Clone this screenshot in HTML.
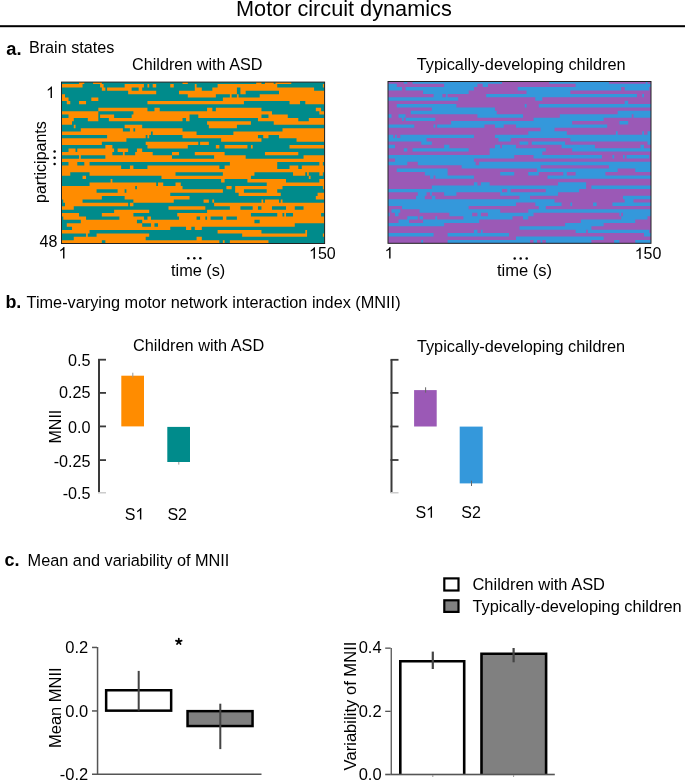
<!DOCTYPE html>
<html><head><meta charset="utf-8"><style>
html,body{margin:0;padding:0;background:#fff;}
svg{display:block;will-change:transform;}
text{font-family:"Liberation Sans",sans-serif;fill:#000;}
.b{font-weight:bold;}
</style></head><body>
<svg width="685" height="781" viewBox="0 0 685 781">
<rect x="0" y="0" width="685" height="781" fill="#fff"/>
<!-- title -->
<text x="236" y="16" font-size="21.7">Motor circuit dynamics</text>
<rect x="0" y="25.2" width="685" height="2" fill="#000"/>

<!-- a. -->
<text x="6.3" y="55" font-size="18.3" class="b">a.</text>
<text x="28.9" y="53.3" font-size="16.2">Brain states</text>
<text x="132" y="69.9" font-size="16.2">Children with ASD</text>
<text x="416.7" y="70.1" font-size="16.35">Typically-developing children</text>

<rect x="61.5" y="82.1" width="263.10" height="161.40" fill="#008B8B"/>
<path fill="#FF8C00" d="M79.04 82.10H84.30V84.00H79.04zM93.07 82.10H101.84V84.00H93.07zM182.53 82.10H187.79V84.00H182.53zM256.19 82.10H261.46V84.00H256.19zM264.96 82.10H273.73V84.00H264.96zM275.49 82.10H291.27V84.00H275.49zM61.50 84.00H82.55V87.39H61.50zM100.09 84.00H103.60V87.39H100.09zM124.64 84.00H143.94V87.39H124.64zM147.45 84.00H149.20V87.39H147.45zM152.71 84.00H156.22V87.39H152.71zM170.25 84.00H173.76V87.39H170.25zM194.80 84.00H196.56V87.39H194.80zM217.61 84.00H277.24V87.39H217.61zM322.85 84.00H324.60V87.39H322.85zM101.84 87.39H105.35V90.79H101.84zM107.10 87.39H131.66V90.79H107.10zM138.68 87.39H142.18V90.79H138.68zM194.80 87.39H201.82V90.79H194.80zM212.34 87.39H236.90V90.79H212.34zM240.41 87.39H314.08V90.79H240.41zM128.15 90.79H156.22V94.18H128.15zM179.02 90.79H236.90V94.18H179.02zM240.41 90.79H245.67V94.18H240.41zM279.00 90.79H324.60V94.18H279.00zM61.50 94.18H65.01V97.58H61.50zM187.79 94.18H215.85V97.58H187.79zM229.88 94.18H231.64V97.58H229.88zM236.90 94.18H238.65V97.58H236.90zM259.70 94.18H324.60V97.58H259.70zM61.50 97.58H68.52V100.98H61.50zM91.32 97.58H98.33V100.98H91.32zM222.87 97.58H324.60V100.98H222.87zM66.76 100.98H70.27V104.37H66.76zM79.04 100.98H86.06V104.37H79.04zM147.45 100.98H243.92V104.37H147.45zM289.52 100.98H300.04V104.37H289.52zM305.31 100.98H324.60V104.37H305.31zM98.33 107.77H147.45V111.16H98.33zM154.46 107.77H159.72V111.16H154.46zM207.08 107.77H212.34V111.16H207.08zM215.85 107.77H261.46V111.16H215.85zM315.83 107.77H321.09V111.16H315.83zM61.50 111.16H98.33V114.56H61.50zM133.41 111.16H271.98V114.56H133.41zM319.34 111.16H324.60V114.56H319.34zM68.52 114.56H98.33V117.96H68.52zM100.09 114.56H114.12V117.96H100.09zM131.66 114.56H189.54V117.96H131.66zM198.31 114.56H261.46V117.96H198.31zM268.47 114.56H287.77V117.96H268.47zM61.50 117.96H73.78V121.35H61.50zM87.81 117.96H98.33V121.35H87.81zM108.86 117.96H182.53V121.35H108.86zM186.03 117.96H189.54V121.35H186.03zM257.95 117.96H298.29V121.35H257.95zM308.81 117.96H324.60V121.35H308.81zM61.50 121.35H72.02V124.75H61.50zM207.08 121.35H250.93V124.75H207.08zM273.73 121.35H324.60V124.75H273.73zM73.78 124.75H75.53V128.14H73.78zM124.64 124.75H142.18V128.14H124.64zM208.84 124.75H236.90V128.14H208.84zM80.79 128.14H122.89V131.54H80.79zM129.91 128.14H133.41V131.54H129.91zM135.17 128.14H182.53V131.54H135.17zM282.50 128.14H324.60V131.54H282.50zM61.50 131.54H150.95V134.94H61.50zM152.71 131.54H196.56V134.94H152.71zM233.39 131.54H324.60V134.94H233.39zM107.10 134.94H145.69V138.33H107.10zM147.45 134.94H149.20V138.33H147.45zM182.53 134.94H257.95V138.33H182.53zM263.21 134.94H268.47V138.33H263.21zM279.00 134.94H324.60V138.33H279.00zM61.50 138.33H126.40V141.73H61.50zM221.11 138.33H261.46V141.73H221.11zM296.54 138.33H324.60V141.73H296.54zM61.50 141.73H101.84V145.12H61.50zM145.69 141.73H198.31V145.12H145.69zM200.07 141.73H208.84V145.12H200.07zM105.35 145.12H112.37V148.52H105.35zM147.45 145.12H187.79V148.52H147.45zM215.85 145.12H219.36V148.52H215.85zM224.62 145.12H247.42V148.52H224.62zM250.93 145.12H252.69V148.52H250.93zM289.52 145.12H324.60V148.52H289.52zM68.52 148.52H75.53V151.92H68.52zM77.29 148.52H114.12V151.92H77.29zM117.63 148.52H128.15V151.92H117.63zM136.92 148.52H142.18V151.92H136.92zM61.50 151.92H112.37V155.31H61.50zM122.89 151.92H124.64V155.31H122.89zM135.17 151.92H152.71V155.31H135.17zM172.00 151.92H179.02V155.31H172.00zM194.80 151.92H224.62V155.31H194.80zM264.96 151.92H298.29V155.31H264.96zM79.04 155.31H80.79V158.71H79.04zM105.35 155.31H172.00V158.71H105.35zM214.10 155.31H245.67V158.71H214.10zM303.55 155.31H324.60V158.71H303.55zM61.50 158.71H324.60V162.10H61.50zM68.52 162.10H77.29V165.50H68.52zM84.30 162.10H89.56V165.50H84.30zM229.88 162.10H277.24V165.50H229.88zM319.34 162.10H322.85V165.50H319.34zM61.50 165.50H121.14V168.90H61.50zM129.91 165.50H133.41V168.90H129.91zM147.45 165.50H219.36V168.90H147.45zM224.62 165.50H277.24V168.90H224.62zM289.52 165.50H298.29V168.90H289.52zM301.80 165.50H324.60V168.90H301.80zM61.50 168.90H324.60V172.29H61.50zM61.50 172.29H70.27V175.69H61.50zM89.56 172.29H175.51V175.69H89.56zM222.87 172.29H254.44V175.69H222.87zM293.03 172.29H305.31V175.69H293.03zM307.06 172.29H308.81V175.69H307.06zM319.34 172.29H322.85V175.69H319.34zM82.55 175.69H86.06V179.08H82.55zM161.48 175.69H250.93V179.08H161.48zM308.81 175.69H310.57V179.08H308.81zM110.61 179.08H112.37V182.48H110.61zM221.11 179.08H224.62V182.48H221.11zM247.42 179.08H286.01V182.48H247.42zM319.34 179.08H324.60V182.48H319.34zM89.56 182.48H156.22V185.88H89.56zM157.97 182.48H163.23V185.88H157.97zM175.51 182.48H180.77V185.88H175.51zM266.72 182.48H324.60V185.88H266.72zM61.50 185.88H135.17V189.27H61.50zM136.92 185.88H182.53V189.27H136.92zM226.38 185.88H231.64V189.27H226.38zM235.15 185.88H282.50V189.27H235.15zM322.85 185.88H324.60V189.27H322.85zM61.50 189.27H96.58V192.67H61.50zM117.63 189.27H124.64V192.67H117.63zM126.40 189.27H222.87V192.67H126.40zM235.15 189.27H243.92V192.67H235.15zM266.72 189.27H277.24V192.67H266.72zM61.50 192.67H170.25V196.06H61.50zM238.65 192.67H280.75V196.06H238.65zM317.58 192.67H324.60V196.06H317.58zM61.50 196.06H101.84V199.46H61.50zM124.64 196.06H189.54V199.46H124.64zM315.83 196.06H324.60V199.46H315.83zM63.25 199.46H82.55V202.86H63.25zM133.41 199.46H173.76V202.86H133.41zM203.57 199.46H208.84V202.86H203.57zM212.34 199.46H214.10V202.86H212.34zM261.46 199.46H263.21V202.86H261.46zM264.96 199.46H279.00V202.86H264.96zM280.75 199.46H282.50V202.86H280.75zM65.01 202.86H128.15V206.25H65.01zM129.91 202.86H133.41V206.25H129.91zM214.10 202.86H324.60V206.25H214.10zM61.50 206.25H73.78V209.65H61.50zM168.49 206.25H205.33V209.65H168.49zM229.88 206.25H240.41V209.65H229.88zM252.69 206.25H257.95V209.65H252.69zM261.46 206.25H271.98V209.65H261.46zM286.01 206.25H294.78V209.65H286.01zM303.55 206.25H324.60V209.65H303.55zM114.12 209.65H149.20V213.04H114.12zM207.08 209.65H324.60V213.04H207.08zM61.50 213.04H79.04V216.44H61.50zM101.84 213.04H133.41V216.44H101.84zM177.26 213.04H250.93V216.44H177.26zM277.24 213.04H282.50V216.44H277.24zM284.26 213.04H286.01V216.44H284.26zM293.03 213.04H321.09V216.44H293.03zM63.25 216.44H86.06V219.84H63.25zM119.38 216.44H143.94V219.84H119.38zM147.45 216.44H150.95V219.84H147.45zM179.02 216.44H196.56V219.84H179.02zM200.07 216.44H205.33V219.84H200.07zM207.08 216.44H210.59V219.84H207.08zM222.87 216.44H226.38V219.84H222.87zM236.90 216.44H324.60V219.84H236.90zM80.79 219.84H136.92V223.23H80.79zM142.18 219.84H254.44V223.23H142.18zM259.70 219.84H324.60V223.23H259.70zM66.76 223.23H142.18V226.63H66.76zM150.95 223.23H154.46V226.63H150.95zM157.97 223.23H294.78V226.63H157.97zM72.02 226.63H170.25V230.02H72.02zM186.03 226.63H191.30V230.02H186.03zM194.80 226.63H201.82V230.02H194.80zM61.50 230.02H89.56V233.42H61.50zM217.61 230.02H261.46V233.42H217.61zM305.31 230.02H307.06V233.42H305.31zM86.06 233.42H87.81V236.82H86.06zM96.58 233.42H149.20V236.82H96.58zM242.16 233.42H307.06V236.82H242.16zM322.85 233.42H324.60V236.82H322.85zM73.78 236.82H145.69V240.21H73.78zM196.56 236.82H201.82V240.21H196.56zM61.50 240.21H101.84V243.50H61.50zM105.35 240.21H219.36V243.50H105.35zM222.87 240.21H224.62V243.50H222.87zM229.88 240.21H268.47V243.50H229.88z"/>
<rect x="61.5" y="82.1" width="263.10" height="161.40" fill="none" stroke="#222" stroke-width="1"/>
<rect x="388.0" y="81.5" width="263.00" height="161.80" fill="#9B59B6"/>
<path fill="#3498DB" d="M403.78 81.50H407.29V83.70H403.78zM412.55 81.50H501.97V83.70H412.55zM549.31 81.50H608.92V83.70H549.31zM645.74 81.50H647.49V83.70H645.74zM388.00 83.70H396.77V87.09H388.00zM444.11 83.70H477.42V87.09H444.11zM482.68 83.70H487.94V87.09H482.68zM575.61 83.70H651.00V87.09H575.61zM388.00 87.09H402.03V90.49H388.00zM405.53 87.09H473.91V90.49H405.53zM517.75 87.09H621.19V90.49H517.75zM624.70 87.09H649.25V90.49H624.70zM423.07 90.49H468.65V93.88H423.07zM526.51 90.49H570.35V93.88H526.51zM433.59 93.88H442.35V97.28H433.59zM445.86 93.88H447.61V97.28H445.86zM486.19 93.88H636.97V97.28H486.19zM642.23 93.88H643.99V97.28H642.23zM388.00 97.28H458.13V100.68H388.00zM535.28 97.28H542.29V100.68H535.28zM624.70 100.68H628.21V104.07H624.70zM396.77 104.07H456.38V107.47H396.77zM524.76 104.07H526.51V107.47H524.76zM538.79 104.07H651.00V107.47H538.79zM431.83 107.47H494.95V110.86H431.83zM410.79 110.86H496.71V114.26H410.79zM617.69 110.86H651.00V114.26H617.69zM388.00 114.26H391.51V117.66H388.00zM398.52 114.26H405.53V117.66H398.52zM477.42 114.26H523.01V117.66H477.42zM559.83 114.26H631.71V117.66H559.83zM633.47 114.26H651.00V117.66H633.47zM402.03 117.66H403.78V121.05H402.03zM405.53 117.66H435.34V121.05H405.53zM533.53 117.66H603.66V121.05H533.53zM451.12 121.05H572.10V124.45H451.12zM619.44 121.05H628.21V124.45H619.44zM388.00 124.45H414.30V127.84H388.00zM433.59 124.45H435.34V127.84H433.59zM437.09 124.45H484.43V127.84H437.09zM494.95 124.45H503.72V127.84H494.95zM515.99 124.45H607.17V127.84H515.99zM540.54 127.84H554.57V131.24H540.54zM528.27 131.24H566.84V134.64H528.27zM615.93 131.24H617.69V134.64H615.93zM642.23 131.24H643.99V134.64H642.23zM647.49 131.24H651.00V134.64H647.49zM388.00 134.64H393.26V138.03H388.00zM395.01 134.64H396.77V138.03H395.01zM400.27 134.64H473.91V138.03H400.27zM494.95 134.64H651.00V138.03H494.95zM388.00 138.03H426.57V141.43H388.00zM498.46 138.03H510.73V141.43H498.46zM570.35 138.03H651.00V141.43H570.35zM421.31 141.43H431.83V144.82H421.31zM519.50 141.43H528.27V144.82H519.50zM531.77 141.43H565.09V144.82H531.77zM647.49 141.43H651.00V144.82H647.49zM388.00 144.82H395.01V148.22H388.00zM444.11 144.82H449.37V148.22H444.11zM494.95 144.82H500.21V148.22H494.95zM501.97 144.82H515.99V148.22H501.97zM561.58 144.82H594.89V148.22H561.58zM640.48 144.82H643.99V148.22H640.48zM403.78 148.22H407.29V151.62H403.78zM412.55 148.22H468.65V151.62H412.55zM489.69 148.22H545.80V151.62H489.69zM572.10 148.22H651.00V151.62H572.10zM489.69 151.62H542.29V155.01H489.69zM388.00 155.01H514.24V158.41H388.00zM533.53 155.01H601.91V158.41H533.53zM612.43 155.01H614.18V158.41H612.43zM622.95 155.01H624.70V158.41H622.95zM626.45 155.01H649.25V158.41H626.45zM395.01 158.41H473.91V161.80H395.01zM388.00 161.80H407.29V165.20H388.00zM417.81 161.80H475.67V165.20H417.81zM479.17 161.80H651.00V165.20H479.17zM461.64 165.20H540.54V168.60H461.64zM608.92 165.20H651.00V168.60H608.92zM396.77 168.60H447.61V171.99H396.77zM537.03 168.60H617.69V171.99H537.03zM635.22 168.60H651.00V171.99H635.22zM424.82 171.99H447.61V175.39H424.82zM500.21 171.99H514.24V175.39H500.21zM528.27 171.99H538.79V175.39H528.27zM563.33 171.99H566.84V175.39H563.33zM575.61 171.99H605.41V175.39H575.61zM430.08 175.39H433.59V178.78H430.08zM435.34 175.39H473.91V178.78H435.34zM547.55 175.39H651.00V178.78H547.55zM473.91 182.18H477.42V185.58H473.91zM480.93 182.18H489.69V185.58H480.93zM558.07 182.18H586.13V185.58H558.07zM431.83 185.58H586.13V188.97H431.83zM591.39 185.58H651.00V188.97H591.39zM388.00 188.97H501.97V192.37H388.00zM507.23 188.97H510.73V192.37H507.23zM545.80 188.97H579.11V192.37H545.80zM417.81 192.37H426.57V195.76H417.81zM430.08 192.37H431.83V195.76H430.08zM444.11 192.37H456.38V195.76H444.11zM500.21 192.37H558.07V195.76H500.21zM416.05 195.76H424.82V199.16H416.05zM431.83 195.76H435.34V199.16H431.83zM519.50 195.76H530.02V199.16H519.50zM622.95 195.76H651.00V199.16H622.95zM388.00 199.16H554.57V202.56H388.00zM624.70 199.16H633.47V202.56H624.70zM388.00 202.56H515.99V205.95H388.00zM535.28 202.56H561.58V205.95H535.28zM570.35 202.56H572.10V205.95H570.35zM593.14 202.56H596.65V205.95H593.14zM612.43 202.56H651.00V205.95H612.43zM402.03 205.95H468.65V209.35H402.03zM538.79 205.95H545.80V209.35H538.79zM391.51 209.35H400.27V212.74H391.51zM419.56 209.35H500.21V212.74H419.56zM528.27 209.35H651.00V212.74H528.27zM388.00 212.74H389.75V216.14H388.00zM395.01 212.74H398.52V216.14H395.01zM449.37 212.74H472.16V216.14H449.37zM477.42 212.74H480.93V216.14H477.42zM487.94 212.74H533.53V216.14H487.94zM619.44 212.74H621.19V216.14H619.44zM622.95 212.74H651.00V216.14H622.95zM407.29 216.14H417.81V219.54H407.29zM419.56 216.14H423.07V219.54H419.56zM435.34 216.14H437.09V219.54H435.34zM463.39 216.14H512.49V219.54H463.39zM523.01 216.14H528.27V219.54H523.01zM621.19 216.14H647.49V219.54H621.19zM398.52 219.54H409.04V222.93H398.52zM423.07 219.54H479.17V222.93H423.07zM580.87 219.54H635.22V222.93H580.87zM388.00 222.93H444.11V226.33H388.00zM565.09 222.93H603.66V226.33H565.09zM519.50 226.33H591.39V229.72H519.50zM473.91 229.72H477.42V233.12H473.91zM480.93 229.72H482.68V233.12H480.93zM575.61 229.72H586.13V233.12H575.61zM587.88 229.72H649.25V233.12H587.88zM388.00 233.12H433.59V236.52H388.00zM447.61 233.12H508.98V236.52H447.61zM643.99 233.12H651.00V236.52H643.99zM515.99 236.52H603.66V239.91H515.99zM421.31 239.91H423.07V243.30H421.31zM447.61 239.91H530.02V243.30H447.61zM533.53 239.91H537.03V243.30H533.53zM540.54 239.91H542.29V243.30H540.54zM545.80 239.91H591.39V243.30H545.80zM614.18 239.91H619.44V243.30H614.18zM635.22 239.91H651.00V243.30H635.22z"/>
<rect x="388.0" y="81.5" width="263.00" height="161.80" fill="none" stroke="#222" stroke-width="1"/>

<!-- left heatmap axes labels -->
<path transform="translate(46.00,98) scale(0.007812,-0.007812)" d="M763 0L583 0L583 1147Q518 1085 412.5 1023Q307 961 223 930L223 1104Q374 1175 487 1276Q600 1377 647 1472L763 1472Z"/>
<text x="39.6" y="247.1" font-size="16">48</text>
<path transform="translate(58.50,258.5) scale(0.007812,-0.007812)" d="M763 0L583 0L583 1147Q518 1085 412.5 1023Q307 961 223 930L223 1104Q374 1175 487 1276Q600 1377 647 1472L763 1472Z"/>
<path transform="translate(309.00,258.8) scale(0.007812,-0.007812)" d="M763 0L583 0L583 1147Q518 1085 412.5 1023Q307 961 223 930L223 1104Q374 1175 487 1276Q600 1377 647 1472L763 1472Z"/><text x="317.9" y="258.8" font-size="16">50</text>
<text transform="translate(45.6,203) rotate(-90)" font-size="16">participants</text>
<g fill="#000"><circle cx="54.6" cy="151.5" r="1.25"/><circle cx="54.6" cy="157.7" r="1.25"/><circle cx="54.6" cy="163.9" r="1.25"/></g>
<g fill="#000"><circle cx="188.3" cy="258.2" r="1.25"/><circle cx="194.3" cy="258.2" r="1.25"/><circle cx="200.3" cy="258.2" r="1.25"/></g>
<text x="171" y="275.5" font-size="16.3">time (s)</text>

<!-- right heatmap axes labels -->
<path transform="translate(384.60,258.6) scale(0.007812,-0.007812)" d="M763 0L583 0L583 1147Q518 1085 412.5 1023Q307 961 223 930L223 1104Q374 1175 487 1276Q600 1377 647 1472L763 1472Z"/>
<path transform="translate(634.70,259.1) scale(0.007812,-0.007812)" d="M763 0L583 0L583 1147Q518 1085 412.5 1023Q307 961 223 930L223 1104Q374 1175 487 1276Q600 1377 647 1472L763 1472Z"/><text x="643.6" y="259.1" font-size="16">50</text>
<g fill="#000"><circle cx="514.7" cy="258.4" r="1.25"/><circle cx="520.7" cy="258.4" r="1.25"/><circle cx="526.7" cy="258.4" r="1.25"/></g>
<text x="497" y="275.5" font-size="16.55">time (s)</text>

<!-- b. -->
<text x="5.4" y="307.9" font-size="17.9" class="b">b.</text>
<text x="26.6" y="307.6" font-size="16.3">Time-varying motor network interaction index (MNII)</text>
<text x="133" y="351" font-size="16.3">Children with ASD</text>
<text x="416.9" y="351.5" font-size="16.3">Typically-developing children</text>

<!-- b left chart -->
<g>
<rect x="98" y="359.6" width="2" height="133.4" fill="#3a3a3a"/>
<g fill="#3a3a3a">
<rect x="98" y="358.8" width="8" height="1.8"/>
<rect x="98" y="392" width="8" height="1.8"/>
<rect x="98" y="425.5" width="8" height="1.8"/>
<rect x="98" y="459.2" width="8" height="1.8"/>
</g>
<rect x="98" y="492" width="8" height="1.5" fill="#ccc"/>
<g font-size="16.2" text-anchor="end">
<text x="90.6" y="365.5">0.5</text>
<text x="90.6" y="398">0.25</text>
<text x="90.6" y="433.4">0.0</text>
<text x="90.6" y="466.6">-0.25</text>
<text x="90.6" y="498.8">-0.5</text>
</g>
<text transform="translate(61.2,443.5) rotate(-90)" font-size="16">MNII</text>
<rect x="121.3" y="375.7" width="22.7" height="50.7" fill="#FF8C00"/>
<rect x="132.3" y="372.7" width="1" height="4.7" fill="#999"/>
<rect x="167.3" y="426.9" width="22.7" height="35.1" fill="#008B8B"/>
<rect x="178.3" y="462" width="1" height="2.6" fill="#999"/>
<text x="124.7" y="519.5" font-size="16">S</text><path transform="translate(135.37,519.5) scale(0.007812,-0.007812)" d="M763 0L583 0L583 1147Q518 1085 412.5 1023Q307 961 223 930L223 1104Q374 1175 487 1276Q600 1377 647 1472L763 1472Z"/>
<text x="167.4" y="519.5" font-size="16">S2</text>
</g>

<!-- b right chart -->
<g>
<rect x="390.5" y="359.7" width="2" height="133.2" fill="#3a3a3a"/>
<g fill="#3a3a3a">
<rect x="390.5" y="358.9" width="8" height="1.8"/>
<rect x="390.5" y="392" width="8" height="1.8"/>
<rect x="390.5" y="425.6" width="8" height="1.8"/>
<rect x="390.5" y="459.1" width="8" height="1.8"/>
</g>
<rect x="390.5" y="492" width="8" height="1.5" fill="#ccc"/>
<rect x="414.1" y="390.1" width="22.6" height="36.4" fill="#9B59B6"/>
<rect x="425.1" y="387.3" width="1" height="5.3" fill="#666"/>
<rect x="459.7" y="426.6" width="23" height="56.8" fill="#3498DB"/>
<rect x="471" y="480.7" width="1" height="5.3" fill="#666"/>
<text x="415.4" y="517.7" font-size="16">S</text><path transform="translate(426.07,517.7) scale(0.007812,-0.007812)" d="M763 0L583 0L583 1147Q518 1085 412.5 1023Q307 961 223 930L223 1104Q374 1175 487 1276Q600 1377 647 1472L763 1472Z"/>
<text x="461.3" y="518.3" font-size="16">S2</text>
</g>

<!-- c. -->
<text x="4.6" y="566.2" font-size="18" class="b">c.</text>
<text x="27.6" y="566.1" font-size="16.3">Mean and variability of MNII</text>

<!-- legend -->
<rect x="444.3" y="578.4" width="14.2" height="12.1" fill="#fff" stroke="#000" stroke-width="2.2"/>
<rect x="444.3" y="600.3" width="14.2" height="11.6" fill="#808080" stroke="#000" stroke-width="2.2"/>
<text x="472.5" y="590.3" font-size="16.45">Children with ASD</text>
<text x="472.5" y="612.2" font-size="16.38">Typically-developing children</text>

<!-- c left chart -->
<g>
<rect x="96.8" y="647" width="1.5" height="127.8" fill="#555"/>
<rect x="92" y="773.5" width="169.5" height="1.5" fill="#555"/>
<rect x="92" y="646.7" width="5" height="1.5" fill="#555"/>
<rect x="92" y="710.2" width="5" height="1.5" fill="#555"/>
<g font-size="16.5" text-anchor="end">
<text x="88.3" y="653.2">0.2</text>
<text x="88.3" y="717.4">0.0</text>
<text x="88.3" y="780.2">-0.2</text>
</g>
<text transform="translate(60.9,748) rotate(-90)" font-size="16.5">Mean MNII</text>
<path d="M178.80 641.60L178.80 638.60M178.80 641.60L181.65 640.67M178.80 641.60L180.56 644.03M178.80 641.60L177.04 644.03M178.80 641.60L175.95 640.67" stroke="#000" stroke-width="1.75" stroke-linecap="round" fill="none"/>
<rect x="106.15" y="690.25" width="65" height="20.4" fill="#fff" stroke="#000" stroke-width="2.5"/>
<rect x="137.7" y="670.9" width="2" height="39.7" fill="#444"/>
<rect x="187.55" y="711.15" width="65" height="14.9" fill="#808080" stroke="#000" stroke-width="2.5"/>
<rect x="219.3" y="703.7" width="2" height="45.4" fill="#444"/>
</g>

<!-- c right chart -->
<g>
<path d="M400.3 775V661.3H464.2V775" fill="#fff" stroke="#000" stroke-width="2.6"/>
<rect x="431.7" y="651.6" width="2.2" height="17.4" fill="#444"/>
<path d="M481.5 775V653.7H546.1V775" fill="#808080" stroke="#000" stroke-width="2.6"/>
<rect x="512.5" y="648" width="2.2" height="14.3" fill="#444"/>
<rect x="390.6" y="648" width="1.3" height="126.5" fill="#555"/>
<rect x="390.6" y="773.7" width="164.2" height="1.6" fill="#555"/>
<rect x="385.2" y="647.5" width="5.5" height="1.3" fill="#555"/>
<rect x="385.2" y="710.7" width="5.5" height="1.3" fill="#555"/>
<rect x="385.2" y="773.7" width="5.5" height="1.6" fill="#555"/>
<rect x="432.3" y="775" width="1" height="2" fill="#999"/>
<rect x="513.1" y="775" width="1" height="2" fill="#999"/>
<g font-size="16.5" text-anchor="end">
<text x="381.6" y="653.1">0.4</text>
<text x="381.6" y="716.9">0.2</text>
<text x="381.6" y="780.2">0.0</text>
</g>
<text transform="translate(355.8,770.4) rotate(-90)" font-size="16.6">Variability of MNII</text>
</g>
</svg>
</body></html>
